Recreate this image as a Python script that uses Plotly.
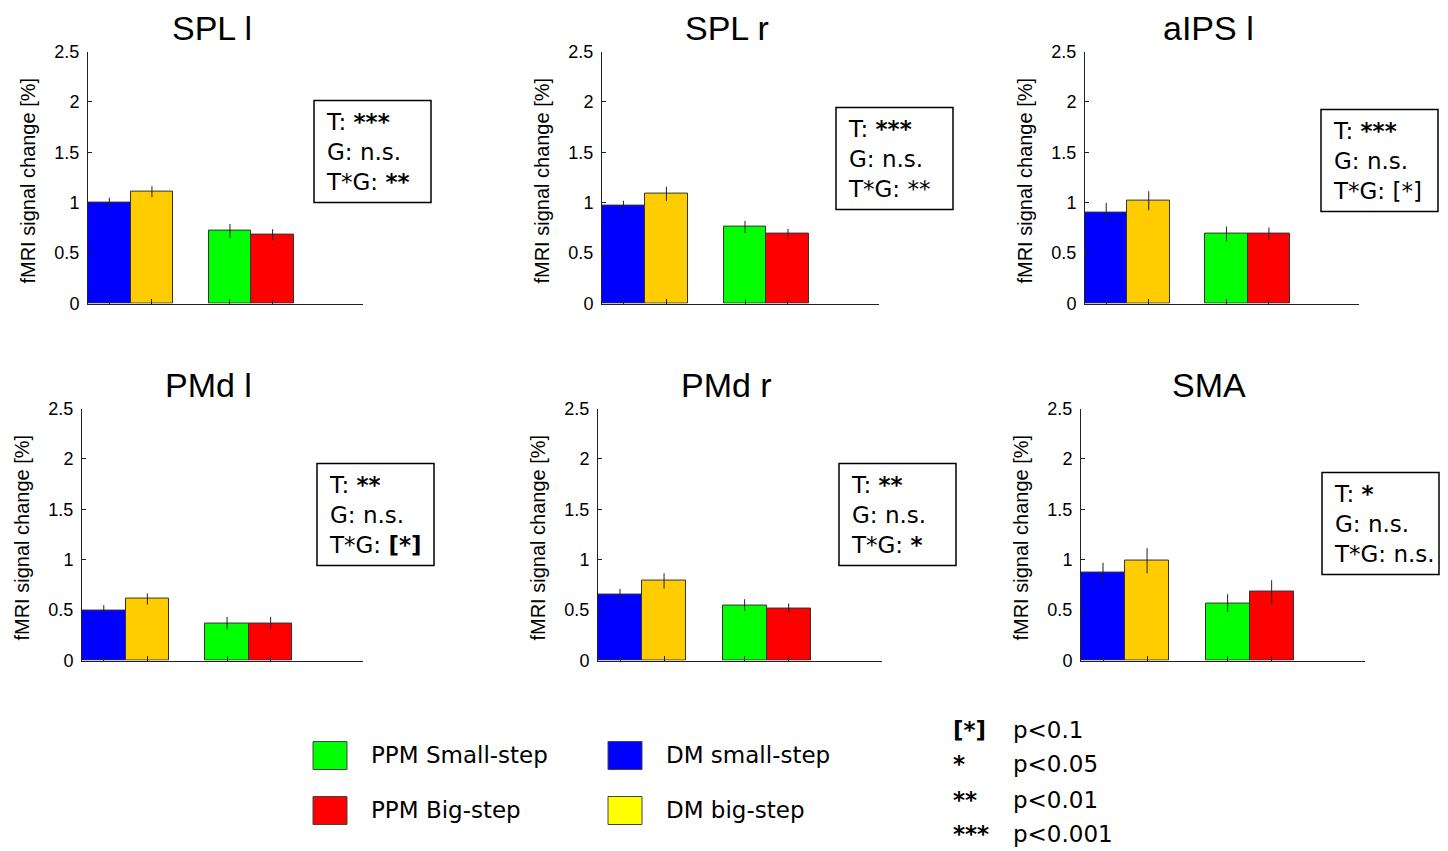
import plotly.graph_objects as go

# ---------------- data ----------------
regions = ["SPL l", "SPL r", "aIPS l", "PMd l", "PMd r", "SMA"]
conditions = ["DM small-step", "DM big-step", "PPM Small-step", "PPM Big-step"]

mean_spl_l = [1.00, 1.11, 0.72, 0.68]
mean_spl_r = [0.97, 1.09, 0.76, 0.69]
mean_aips_l = [0.90, 1.02, 0.69, 0.69]
mean_pmd_l = [0.50, 0.61, 0.37, 0.37]
mean_pmd_r = [0.65, 0.79, 0.55, 0.52]
mean_sma = [0.87, 0.99, 0.57, 0.68]

err_spl_l = [0.05, 0.055, 0.07, 0.058]
err_spl_r = [0.05, 0.07, 0.06, 0.05]
err_aips_l = [0.10, 0.095, 0.075, 0.065]
err_pmd_l = [0.05, 0.055, 0.063, 0.063]
err_pmd_r = [0.06, 0.076, 0.058, 0.046]
err_sma = [0.10, 0.125, 0.088, 0.117]

sig_T = ["***", "***", "***", "**", "**", "*"]
sig_G = ["n.s.", "n.s.", "n.s.", "n.s.", "n.s.", "n.s."]
sig_TG = ["**", "**", "[*]", "[*]", "*", "n.s."]
bold_TG = [True, False, False, True, True, False]

y_tickvals = [0, 0.5, 1, 1.5, 2, 2.5]
y_ticktext = ["0", "0.5", "1", "1.5", "2", "2.5"]
y_label = "fMRI signal change [%]"

legend_labels = ["PPM Small-step", "PPM Big-step", "DM small-step", "DM big-step"]
footnote_symbols = ["[*]", "*", "**", "***"]
footnote_text = ["p<0.1", "p<0.05", "p<0.01", "p<0.001"]

means = [mean_spl_l, mean_spl_r, mean_aips_l, mean_pmd_l, mean_pmd_r, mean_sma]
errs = [err_spl_l, err_spl_r, err_aips_l, err_pmd_l, err_pmd_r, err_sma]

# ---------------- styling / layout ----------------
W, H = 1448, 851
bar_colors = ["#0000FF", "#FFCC00", "#00FF00", "#FF0000"]
legend_colors = ["#00FF00", "#FF0000", "#0000FF", "#FFFF00"]
AX = "#222222"

group_step = 2.83
slots = [g * group_step + m + 0.5 for g in range(2) for m in range(2)]
x_range = [0, 6.45]

# panel axis extents in target-picture pixels (left, right, top, bottom)
panels_px = [
    (88, 363, 51, 303),
    (602, 879, 51, 303),
    (1085, 1359, 51, 303),
    (82, 363, 408, 660),
    (598, 882, 408, 660),
    (1081, 1365, 408, 660),
]
boxes_px = [(314, 100), (836, 107), (1321, 109), (317, 463), (839, 463), (1322, 472)]
box_w, box_h = 117, 102

# vertical calibration of the capture (picture y = V_SCALE * page y + V_OFF)
V_SCALE, V_OFF = 0.9766, 9.4


def px(x):
    return x / W


def py(y):
    return 1 - ((y - V_OFF) / V_SCALE) / H


fig = go.Figure()
annotations = []
shapes = []

for i, name in enumerate(regions):
    k = "" if i == 0 else str(i + 1)
    l, r, t, b = panels_px[i]
    fig.add_trace(go.Bar(
        x=slots, y=means[i], width=1,
        marker=dict(color=bar_colors, line=dict(color="#333333", width=1)),
        error_y=dict(type="data", array=errs[i], visible=True,
                     thickness=1, width=0, color=AX),
        xaxis="x" + k, yaxis="y" + k, showlegend=False,
        hovertext=conditions, name=name,
    ))
    fig.update_layout(**{
        "xaxis" + k: dict(domain=[px(l), px(r)], range=x_range, anchor="y" + k,
                          showline=True, linecolor=AX, linewidth=1,
                          ticks="inside", tickvals=slots, ticklen=5,
                          tickcolor=AX, showticklabels=False,
                          showgrid=False, zeroline=False, fixedrange=True),
        "yaxis" + k: dict(domain=[py(b), py(t)], range=[0, 2.5], anchor="x" + k,
                          showline=True, linecolor=AX, linewidth=1,
                          ticks="inside", tickvals=y_tickvals, ticktext=y_ticktext,
                          ticklen=4, tickcolor=AX, ticklabelstandoff=4,
                          tickfont=dict(family="Liberation Sans, Arial", size=18, color="black"),
                          showgrid=False, zeroline=False, fixedrange=True),
    })
    annotations.append(dict(
        text=name, x=px((l + r) / 2 - 14), y=py(t - 24), xref="paper", yref="paper",
        xanchor="center", yanchor="middle", showarrow=False,
        font=dict(family="Liberation Sans, Arial", size=34, color="black")))
    annotations.append(dict(
        text=y_label, x=px(l - 60), y=py((t + b) / 2 + 3), xref="paper", yref="paper",
        xanchor="center", yanchor="middle", showarrow=False, textangle=-90,
        font=dict(family="Liberation Sans, Arial", size=20, color="black")))
    bx, by = boxes_px[i]
    shapes.append(dict(type="rect", xref="paper", yref="paper",
                       x0=px(bx), x1=px(bx + box_w), y0=py(by + box_h), y1=py(by),
                       line=dict(color="black", width=1.5), fillcolor="white"))
    tg = "<b>%s</b>" % sig_TG[i] if bold_TG[i] else sig_TG[i]
    txt = "T: <b>%s</b><br>G: %s<br>T*G: %s" % (sig_T[i], sig_G[i], tg)
    annotations.append(dict(
        text=txt, x=px(bx + 10), y=py(by + box_h / 2), xref="paper", yref="paper",
        xanchor="left", yanchor="middle", align="left", showarrow=False,
        font=dict(family="DejaVu Sans", size=23, color="black")))

legend_px = [(313, 741), (313, 796), (608, 741), (608, 796)]
for j, lab in enumerate(legend_labels):
    lx, ly = legend_px[j]
    shapes.append(dict(type="rect", xref="paper", yref="paper",
                       x0=px(lx), x1=px(lx + 34), y0=py(ly + 28), y1=py(ly),
                       line=dict(color="#444444", width=1), fillcolor=legend_colors[j]))
    annotations.append(dict(
        text=lab, x=px(lx + 56), y=py(ly + 13), xref="paper", yref="paper",
        xanchor="left", yanchor="middle", showarrow=False,
        font=dict(family="DejaVu Sans", size=23, color="black")))

foot_y = [729, 763, 799, 833]
for j in range(4):
    annotations.append(dict(
        text="<b>%s</b>" % footnote_symbols[j], x=px(951), y=py(foot_y[j]),
        xref="paper", yref="paper", xanchor="left", yanchor="middle", showarrow=False,
        font=dict(family="DejaVu Sans", size=23, color="black")))
    annotations.append(dict(
        text=footnote_text[j], x=px(1011), y=py(foot_y[j]),
        xref="paper", yref="paper", xanchor="left", yanchor="middle", showarrow=False,
        font=dict(family="DejaVu Sans", size=23, color="black")))

fig.update_layout(
    width=W, height=H, margin=dict(l=0, r=0, t=0, b=0, pad=0),
    paper_bgcolor="white", plot_bgcolor="white", autosize=False,
    annotations=annotations, shapes=shapes, showlegend=False,
    bargap=0,
)

post = (
    "document.documentElement.style.overflow='hidden';"
    "document.body.style.margin='0';"
    "document.body.style.overflow='hidden';"
)

fig.write_html(
    "out.html",
    config={"displayModeBar": False, "responsive": False},
    post_script=post,
)
